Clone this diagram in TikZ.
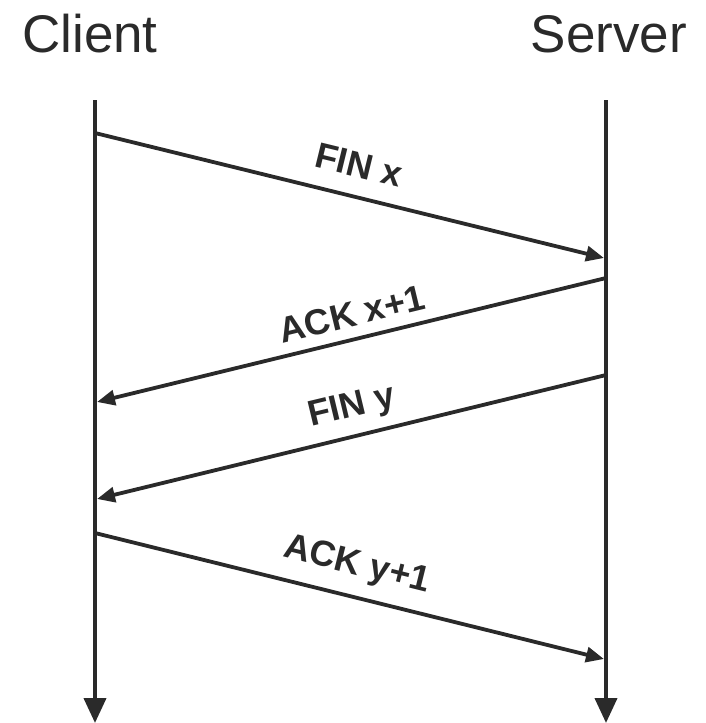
\documentclass[tikz,border=0pt]{standalone}
\usepackage{fontspec}
\setmainfont{Liberation Sans}
\usetikzlibrary{arrows.meta}
\definecolor{ink}{HTML}{2A2A2A}
\begin{document}
\begin{tikzpicture}[x=1pt,y=-1pt,
  life/.style={line width=4pt, draw=ink, -{Triangle[length=25pt,width=22pt]}},
  msg/.style={line width=3.8pt, draw=ink, -{Triangle[length=18pt,width=15pt]}},
  title/.style={text=ink, font=\fontsize{53}{60}\selectfont, inner sep=0pt},
  lbl/.style={text=ink, font=\bfseries\fontsize{36}{42}\selectfont, inner sep=0pt}]
\useasboundingbox (0,0) rectangle (706,723);
\node[title, anchor=base] (client) at (90,52) {Client};
\node[title, anchor=base] (server) at (609,52) {Server};
\coordinate (ctop) at (95,100);
\coordinate (cbot) at (95,723);
\coordinate (stop) at (606,100);
\coordinate (sbot) at (606,723);
\draw[life] (ctop) -- (cbot);
\draw[life] (stop) -- (sbot);
\coordinate (m1s) at (95,133);
\coordinate (m1e) at (604,258);
\coordinate (m2s) at (606,278);
\coordinate (m2e) at (97,402);
\coordinate (m3s) at (606,375);
\coordinate (m3e) at (97,499);
\coordinate (m4s) at (95,533);
\coordinate (m4e) at (604,659);
\draw[msg] (m1s) -- (m1e);
\draw[msg] (m2s) -- (m2e);
\draw[msg] (m3s) -- (m3e);
\draw[msg] (m4s) -- (m4e);
\node[lbl, rotate=-13.75] (l1) at (359,165) {FIN x};
\node[lbl, rotate=13.6] (l2) at (352,314) {ACK x+1};
\node[lbl, rotate=13.5] (l3) at (352,408) {FIN y};
\node[lbl, rotate=-14] (l4) at (357,566) {ACK y+1};
\end{tikzpicture}
\end{document}
